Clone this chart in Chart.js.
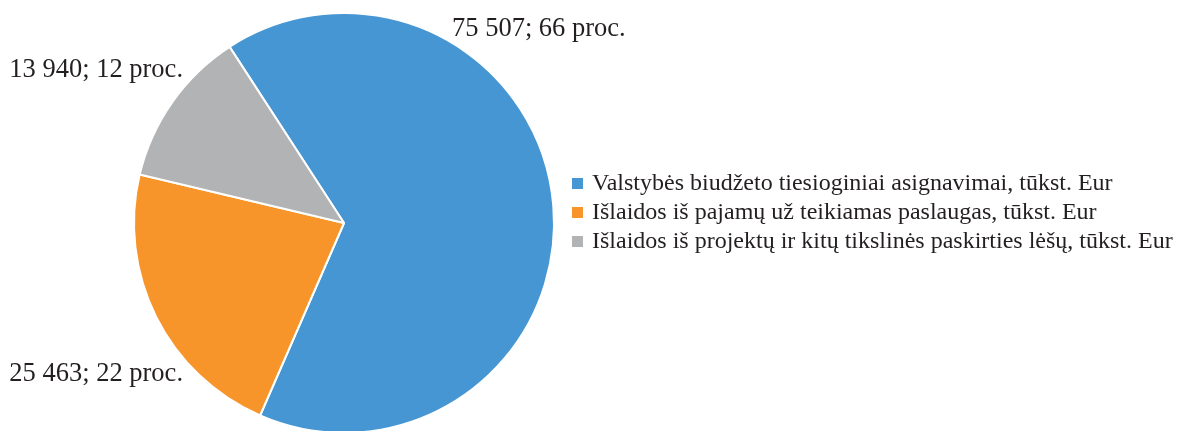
<!DOCTYPE html>
<html lang="lt">
<head>
<meta charset="utf-8">
<title>Išlaidų struktūra</title>
<script src="https://cdn.jsdelivr.net/npm/chart.js@4.4.1/dist/chart.umd.min.js"></script>
<style>
  html, body { margin: 0; padding: 0; background: #ffffff; overflow: hidden; }
  #wrap { position: relative; width: 1177px; height: 440px; }
</style>
</head>
<body>
<div id="wrap"><canvas id="pie" width="1177" height="440"></canvas></div>
<script>
// Lėšų šaltiniai ir sumos (tūkst. Eur)
const categories = [
  'Valstybės biudžeto tiesioginiai asignavimai, tūkst. Eur',
  'Išlaidos iš pajamų už teikiamas paslaugas, tūkst. Eur',
  'Išlaidos iš projektų ir kitų tikslinės paskirties lėšų, tūkst. Eur'
];
const amounts = [75507, 25463, 13940];
const percentLabels = [66, 22, 12];
const sliceColors = ['#4596D2', '#F7952A', '#B2B3B4'];

const TEXT_COLOR = '#231F20';
const SERIF = '"Liberation Serif", "Times New Roman", Times, serif';

function formatThousands(n) {
  return String(n).replace(/\B(?=(\d{3})+(?!\d))/g, ' ');
}

// Value labels placed outside the pie, offsets measured from the pie centre
const outsideLabels = {
  id: 'outsideLabels',
  afterDatasetsDraw(chart, args, opts) {
    const meta = chart.getDatasetMeta(0);
    const ctx = chart.ctx;
    ctx.save();
    ctx.font = opts.font;
    ctx.fillStyle = opts.color;
    ctx.textBaseline = 'alphabetic';
    meta.data.forEach((arc, i) => {
      const p = opts.placement[i];
      const text = formatThousands(amounts[i]) + '; ' + percentLabels[i] + ' proc.';
      ctx.textAlign = p.align;
      ctx.fillText(text, arc.x + p.dx, arc.y + p.dy);
    });
    ctx.restore();
  }
};

// Legend drawn to the right of the pie
const sideLegend = {
  id: 'sideLegend',
  afterDraw(chart, args, opts) {
    const ctx = chart.ctx;
    ctx.save();
    ctx.font = opts.font;
    ctx.textBaseline = 'alphabetic';
    ctx.textAlign = 'left';
    chart.data.labels.forEach((label, i) => {
      const base = opts.top + i * opts.rowHeight;
      ctx.fillStyle = chart.data.datasets[0].backgroundColor[i];
      ctx.fillRect(opts.left, base - opts.box - 1, opts.box, opts.box);
      ctx.fillStyle = opts.color;
      ctx.fillText(label, opts.left + opts.box + 9, base);
    });
    ctx.restore();
  }
};

new Chart(document.getElementById('pie'), {
  type: 'pie',
  data: {
    labels: categories,
    datasets: [{
      data: amounts,
      backgroundColor: sliceColors,
      borderColor: '#ffffff',
      borderWidth: 2
    }]
  },
  options: {
    responsive: false,
    animation: false,
    rotation: -33,
    layout: { padding: { left: 133, right: 622, top: 12, bottom: 6 } },
    plugins: {
      legend: { display: false },
      tooltip: { enabled: false },
      outsideLabels: {
        font: '26.5px ' + SERIF,
        color: TEXT_COLOR,
        placement: [
          { dx: 108, dy: -187, align: 'left' },
          { dx: -161, dy: 158, align: 'right' },
          { dx: -161, dy: -146, align: 'right' }
        ]
      },
      sideLegend: {
        font: '24px ' + SERIF,
        color: TEXT_COLOR,
        left: 572,
        top: 190,
        rowHeight: 29,
        box: 11
      }
    }
  },
  plugins: [outsideLabels, sideLegend]
});
</script>
</body>
</html>
